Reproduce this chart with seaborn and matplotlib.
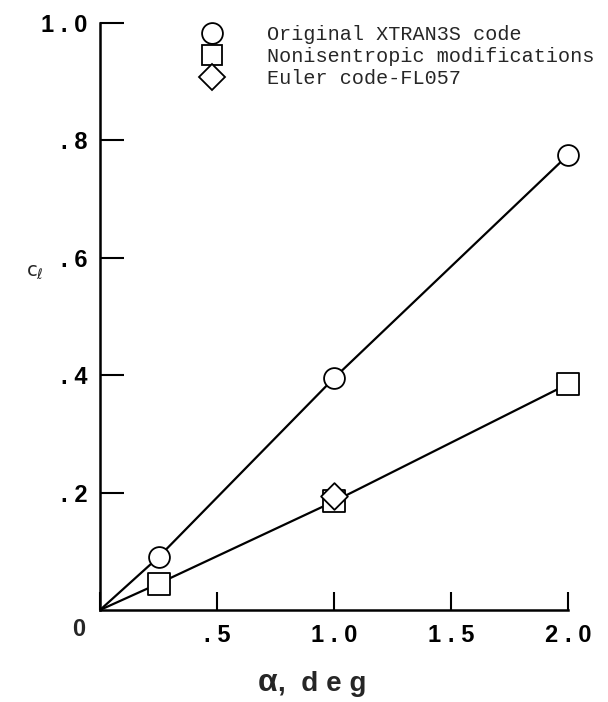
import matplotlib
matplotlib.use("Agg")
import matplotlib.pyplot as plt
import seaborn as sns
import pandas as pd
from matplotlib.lines import Line2D

# ---- data ----
alpha = [0.0, 0.25, 1.0, 2.0]
cl_original = [0.0, 0.09, 0.395, 0.775]
cl_nonisentropic = [0.0, 0.045, 0.185, 0.385]
alpha_euler = [1.0]
cl_euler = [0.195]

series_names = ["Original XTRAN3S code", "Nonisentropic modifications", "Euler code-FL057"]
xtick_values = [0.0, 0.5, 1.0, 1.5, 2.0]
xtick_labels = ["", ".5", "1.0", "1.5", "2.0"]
ytick_values = [0.2, 0.4, 0.6, 0.8, 1.0]
ytick_labels = [".2", ".4", ".6", ".8", "1.0"]

GAP = "\u2009\u200a"
def spaced(s):
    return GAP.join(list(s))

sns.set_theme(style="white")
plt.rcParams["font.family"] = ["Liberation Sans", "DejaVu Sans"]
plt.rcParams["mathtext.fontset"] = "dejavusans"

fig = plt.figure(figsize=(6.08, 7.02), dpi=100)
ax = fig.add_axes([100 / 608, 92 / 702, 468 / 608, 587 / 702])

df_o = pd.DataFrame({"alpha": alpha, "cl": cl_original})
df_n = pd.DataFrame({"alpha": alpha, "cl": cl_nonisentropic})
df_e = pd.DataFrame({"alpha": alpha_euler, "cl": cl_euler})

lw = 1.6
sns.lineplot(data=df_o, x="alpha", y="cl", color="black", linewidth=lw, ax=ax, zorder=2)
sns.lineplot(data=df_n, x="alpha", y="cl", color="black", linewidth=lw, ax=ax, zorder=2)

mk = dict(facecolor="white", edgecolor="black", linewidth=1.3, zorder=3, clip_on=False)
sns.scatterplot(data=df_o[df_o.alpha > 0], x="alpha", y="cl", marker="o", s=225, ax=ax, **mk)
sns.scatterplot(data=df_n[df_n.alpha > 0], x="alpha", y="cl", marker="s", s=245, ax=ax, **mk)
mk_d = dict(mk)
mk_d["zorder"] = 4
sns.scatterplot(data=df_e, x="alpha", y="cl", marker="D", s=185, ax=ax, **mk_d)

ax.set_xlim(0, 2.0)
ax.set_ylim(0, 1.0)
ax.set_xticks(xtick_values)
ax.set_xticklabels([spaced(t) for t in xtick_labels])
ax.set_yticks(ytick_values)
ax.set_yticklabels([spaced(t) for t in ytick_labels])

for s in ["top", "right"]:
    ax.spines[s].set_visible(False)
for s in ["left", "bottom"]:
    ax.spines[s].set_color("black")
    ax.spines[s].set_linewidth(1.8)

ax.tick_params(axis="both", direction="in", width=1.5, colors="black",
               labelsize=17, left=True, bottom=True)
ax.tick_params(axis="y", pad=9, length=17)
ax.tick_params(axis="x", pad=10, length=13)
for lab in ax.get_xticklabels() + ax.get_yticklabels():
    lab.set_fontweight("bold")

ax.text(-0.045, -0.034, "0", transform=ax.transAxes, ha="center", va="center",
        fontsize=17, fontweight="bold")

ax.set_xlabel("")
ax.set_ylabel("")
fig.text(268 / 608, 1 - 691 / 702, "α", ha="center", va="baseline",
         fontsize=23, fontweight="bold")
fig.text(278 / 608, 1 - 691 / 702, ",  " + spaced("deg"), ha="left", va="baseline",
         fontsize=20, fontweight="bold")
ax.text(-0.14, 0.575, r"$\mathrm{c}_\ell$", transform=ax.transAxes, ha="center", va="center",
        fontsize=14)

handles = [
    Line2D([], [], linestyle="none", marker="o", markersize=15, markerfacecolor="white",
           markeredgecolor="black", markeredgewidth=1.3),
    Line2D([], [], linestyle="none", marker="s", markersize=14, markerfacecolor="white",
           markeredgecolor="black", markeredgewidth=1.3),
    Line2D([], [], linestyle="none", marker="D", markersize=13.5, markerfacecolor="white",
           markeredgecolor="black", markeredgewidth=1.3),
]
leg = ax.legend(handles, series_names, loc="upper left", bbox_to_anchor=(0.179, 1.01),
                frameon=False, prop={"family": "Liberation Mono", "size": 14.5},
                handletextpad=1.73, labelspacing=0.15, borderaxespad=0)

fig.savefig("out.png", dpi=100)
